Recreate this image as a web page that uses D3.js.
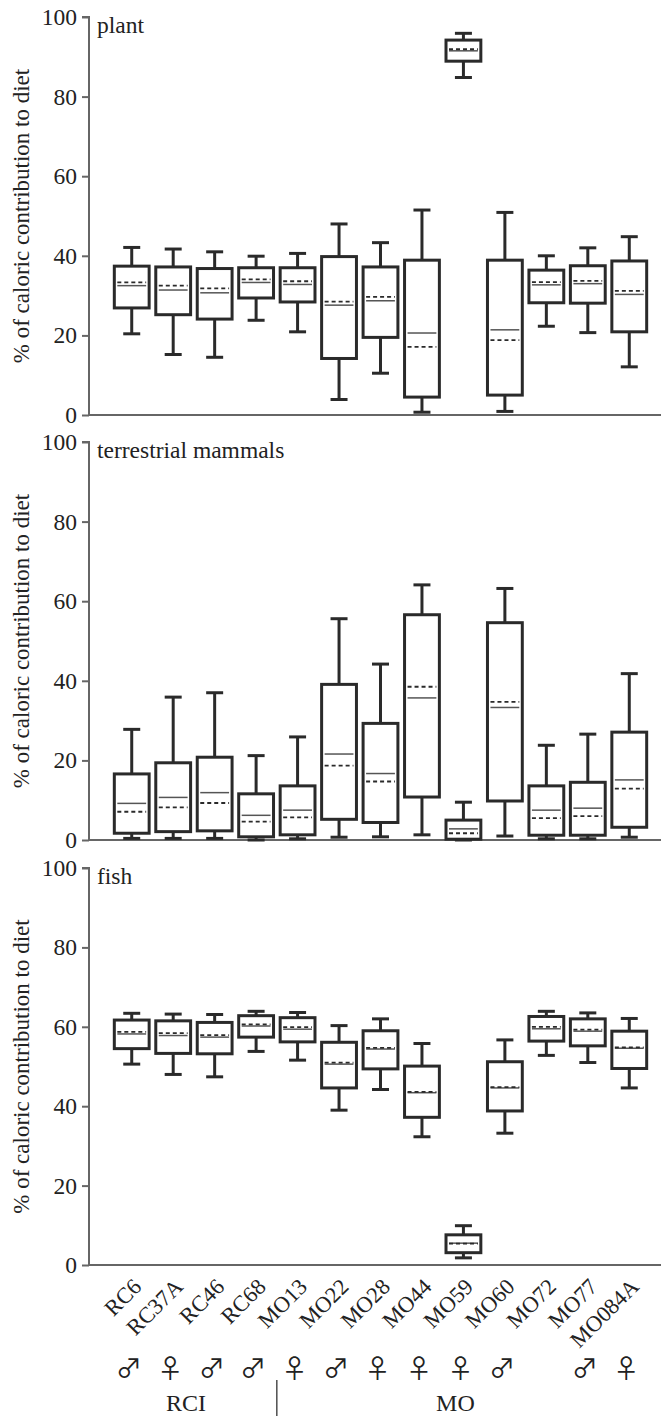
<!DOCTYPE html>
<html>
<head>
<meta charset="utf-8">
<script src="https://cdn.jsdelivr.net/npm/d3@7"></script>
<style>
body { margin: 0; background: #fff; }
svg { display: block; }
</style>
</head>
<body>
<svg id="drawing_region"></svg>
<script>
// individuals along the x axis
const individuals = ['RC6','RC37A','RC46','RC68','MO13','MO22','MO28','MO44','MO59','MO60','MO72','MO77','MO084A'];
const sexes = ['♂','♀','♂','♂','♀','♂','♀','♀','♀','♂','','♂','♀'];
const groups = [ {name:'RCI', first:'RC6', last:'RC68'}, {name:'MO', first:'MO13', last:'MO084A'} ];
const yTicks = [0, 20, 40, 60, 80, 100];

// plant
const plantLow  = [20.4, 15.2, 14.5, 23.8, 20.9,  3.9, 10.5,  0.7, 84.8,  0.9, 22.3, 20.7, 12.1];
const plantQ1   = [26.9, 25.2, 24.1, 29.4, 28.4, 14.2, 19.5,  4.5, 88.9,  5.0, 28.2, 28.1, 20.9];
const plantMed  = [32.5, 31.4, 30.7, 33.3, 32.8, 27.6, 28.7, 20.6, 91.5, 21.4, 32.7, 33.0, 30.3];
const plantMean = [33.3, 32.5, 31.8, 34.1, 33.6, 28.5, 29.7, 17.1, 91.9, 18.8, 33.4, 33.7, 31.2];
const plantQ3   = [37.4, 37.2, 36.8, 37.0, 37.0, 39.8, 37.2, 38.9, 94.2, 38.9, 36.4, 37.5, 38.7];
const plantHigh = [42.1, 41.7, 41.0, 39.9, 40.6, 48.0, 43.3, 51.5, 95.9, 50.9, 40.0, 42.0, 44.8];

// terrestrial mammals
const mammalLow  = [0.4, 0.4, 0.4, 0.0, 0.3, 0.7, 0.8,  1.3, 0.0,  1.0, 0.3, 0.3, 0.7];
const mammalQ1   = [1.7, 2.1, 2.3, 0.8, 1.3, 5.2, 4.4, 10.8, 0.2,  9.8, 1.2, 1.2, 3.2];
const mammalMed  = [9.2, 10.7, 11.9, 6.2, 7.5, 21.6, 16.7, 35.7, 2.8, 33.3, 7.5, 8.0, 15.1];
const mammalMean = [7.1, 8.2, 9.3, 4.6, 5.7, 18.7, 14.7, 38.5, 1.7, 34.7, 5.5, 6.0, 12.9];
const mammalQ3   = [16.6, 19.4, 20.8, 11.6, 13.6, 39.1, 29.3, 56.6, 5.0, 54.6, 13.6, 14.5, 27.1];
const mammalHigh = [27.8, 35.9, 37.0, 21.2, 25.9, 55.6, 44.2, 64.1, 9.5, 63.2, 23.8, 26.6, 41.8];

// fish
const fishLow  = [50.6, 48.0, 47.4, 53.8, 51.6, 39.0, 44.2, 32.3, 1.8, 33.2, 52.8, 51.0, 44.6];
const fishQ1   = [54.5, 53.3, 53.2, 57.4, 56.2, 44.6, 49.4, 37.2, 3.1, 38.8, 56.4, 55.2, 49.5];
const fishMed  = [58.2, 57.8, 57.4, 60.2, 59.4, 50.6, 54.4, 43.4, 5.5, 44.6, 59.5, 58.9, 54.6];
const fishMean = [58.7, 58.4, 57.9, 60.6, 59.9, 51.0, 54.7, 43.6, 5.4, 44.8, 60.0, 59.3, 54.8];
const fishQ3   = [61.7, 61.5, 61.1, 62.8, 62.3, 56.1, 59.0, 50.1, 7.6, 51.2, 62.6, 62.0, 58.9];
const fishHigh = [63.4, 63.2, 63.1, 63.9, 63.6, 60.3, 62.0, 55.8, 9.9, 56.7, 63.9, 63.5, 62.1];

const panels = [
  {title:'plant', low:plantLow, q1:plantQ1, med:plantMed, mean:plantMean, q3:plantQ3, high:plantHigh, bottom:415, top:17},
  {title:'terrestrial mammals', low:mammalLow, q1:mammalQ1, med:mammalMed, mean:mammalMean, q3:mammalQ3, high:mammalHigh, bottom:840, top:442},
  {title:'fish', low:fishLow, q1:fishQ1, med:fishMed, mean:fishMean, q3:fishQ3, high:fishHigh, bottom:1265, top:868}
];

const W = 661, H = 1416;
const axisX = 89;
const serif = '"Liberation Serif", "Times New Roman", serif';
const svg = d3.select('#drawing_region').attr('width', W).attr('height', H)
  .attr('font-family', serif);

const xscale = d3.scaleBand().domain(individuals).range([111, 650]);
const boxW = xscale.bandwidth() * 0.84;
const capW = 17;
const cx = d => xscale(d) + xscale.bandwidth() / 2;
const dark = '#2a2a2a';

panels.forEach(p => {
  const yscale = d3.scaleLinear().domain([0, 100]).range([p.bottom, p.top]);
  const g = svg.append('g');

  // y axis
  const yaxis = d3.axisLeft(yscale).tickValues(yTicks).tickSize(7).tickPadding(5);
  const ag = g.append('g').attr('transform', `translate(${axisX},0)`).call(yaxis)
    .attr('font-family', serif).attr('font-size', 23.5);
  ag.select('.domain').attr('stroke', '#666').attr('stroke-width', 2).attr('d', `M-7,${p.top}H0V${p.bottom}`);
  ag.selectAll('.tick line').attr('stroke', '#666').attr('stroke-width', 2);
  ag.selectAll('.tick text').attr('fill', '#222');

  // x axis baseline
  g.append('line')
    .attr('x1', axisX).attr('x2', W)
    .attr('y1', yscale(0)).attr('y2', yscale(0))
    .attr('stroke', '#666').attr('stroke-width', 2);

  // y label
  g.append('text')
    .attr('transform', `translate(29,${(p.top + p.bottom) / 2}) rotate(-90)`)
    .attr('text-anchor', 'middle')
    .attr('font-size', 23)
    .attr('fill', '#222')
    .text('% of caloric contribution to diet');

  // panel title
  g.append('text')
    .attr('x', 97).attr('y', p.top + 16)
    .attr('font-size', 23.5)
    .attr('fill', '#222')
    .text(p.title);

  const rows = individuals.map((d, i) => ({
    id: d, low: p.low[i], q1: p.q1[i], med: p.med[i], mean: p.mean[i], q3: p.q3[i], high: p.high[i]
  }));

  const bx = g.selectAll('.bx').data(rows).enter().append('g').attr('class', 'bx');

  // whiskers
  bx.append('line')
    .attr('x1', d => cx(d.id)).attr('x2', d => cx(d.id))
    .attr('y1', d => yscale(d.q3)).attr('y2', d => yscale(d.high))
    .attr('stroke', dark).attr('stroke-width', 3);
  bx.append('line')
    .attr('x1', d => cx(d.id)).attr('x2', d => cx(d.id))
    .attr('y1', d => yscale(d.q1)).attr('y2', d => yscale(d.low))
    .attr('stroke', dark).attr('stroke-width', 3);
  ['high', 'low'].forEach(k => {
    bx.append('line')
      .attr('x1', d => cx(d.id) - capW / 2).attr('x2', d => cx(d.id) + capW / 2)
      .attr('y1', d => yscale(d[k])).attr('y2', d => yscale(d[k]))
      .attr('stroke', dark).attr('stroke-width', 3);
  });

  // box
  bx.append('rect')
    .attr('x', d => cx(d.id) - boxW / 2)
    .attr('y', d => yscale(d.q3))
    .attr('width', boxW)
    .attr('height', d => yscale(d.q1) - yscale(d.q3))
    .attr('fill', 'white').attr('stroke', dark).attr('stroke-width', 3);

  // median (solid) and mean (dashed)
  bx.append('line')
    .attr('x1', d => cx(d.id) - boxW / 2 + 3).attr('x2', d => cx(d.id) + boxW / 2 - 3)
    .attr('y1', d => yscale(d.med)).attr('y2', d => yscale(d.med))
    .attr('stroke', '#555').attr('stroke-width', 1.5);
  bx.append('line')
    .attr('x1', d => cx(d.id) - boxW / 2 + 3).attr('x2', d => cx(d.id) + boxW / 2 - 3)
    .attr('y1', d => yscale(d.mean)).attr('y2', d => yscale(d.mean))
    .attr('stroke', dark).attr('stroke-width', 1.8).attr('stroke-dasharray', '4,3');
});

// x labels
svg.selectAll('.xlab').data(individuals).enter().append('text')
  .attr('class', 'xlab')
  .attr('text-anchor', 'end')
  .attr('font-size', 22.5)
  .attr('fill', '#222')
  .attr('transform', d => `translate(${cx(d) + 11},${1288}) rotate(-45)`)
  .text(d => d);

// sex symbols
svg.selectAll('.sex').data(individuals).enter().append('text')
  .attr('class', 'sex')
  .attr('text-anchor', 'middle')
  .attr('font-size', 26)
  .attr('font-family', '"Noto Sans CJK JP", "DejaVu Sans", sans-serif')
  .attr('fill', '#222')
  .attr('x', d => cx(d) - 3)
  .attr('y', 1378)
  .text((d, i) => sexes[i]);

// group labels and divider
const divX = (cx('RC68') + cx('MO13')) / 2;
svg.append('line')
  .attr('x1', divX).attr('x2', divX)
  .attr('y1', 1380).attr('y2', H)
  .attr('stroke', '#222').attr('stroke-width', 1.2);
groups.forEach(gr => {
  svg.append('text')
    .attr('x', (cx(gr.first) + cx(gr.last)) / 2 - 8)
    .attr('y', 1411)
    .attr('text-anchor', 'middle')
    .attr('font-size', 24)
    .attr('fill', '#222')
    .text(gr.name);
});
</script>
</body>
</html>
